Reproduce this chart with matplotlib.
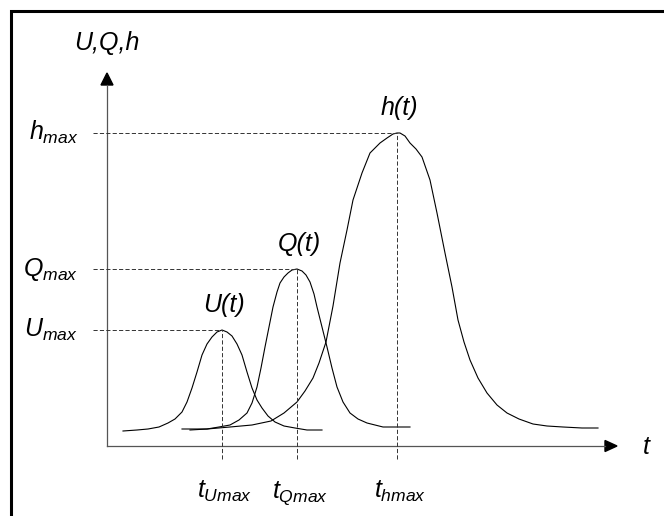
import matplotlib.pyplot as plt
import matplotlib.patches as patches

plt.rcParams['font.family'] = ['Liberation Sans', 'DejaVu Sans']
plt.rcParams['mathtext.fontset'] = 'custom'
plt.rcParams['mathtext.rm'] = 'Liberation Sans:italic'
plt.rcParams['mathtext.it'] = 'Liberation Sans:italic'
plt.rcParams['lines.scale_dashes'] = False

# curves (t, value), origin at the axes corner
u_t = [16, 30, 41, 52, 61, 68, 75, 80, 85, 90, 95, 100, 105, 110, 115, 120, 125, 130, 135,
       140, 145, 150, 155, 161, 168, 177, 188, 200, 215]
u_v = [15, 16, 17, 19, 23, 27, 34, 44, 58, 74, 91, 102, 109, 114, 116, 114, 110, 102, 91,
       74, 58, 46, 38, 30, 24, 20, 18, 16, 16]

q_t = [75, 90, 100, 112, 123, 132, 140, 145, 150, 154, 158, 162, 166, 170, 173, 177, 181, 185,
       190, 195, 199, 203, 207, 210, 215, 220, 225, 230, 236, 243, 251, 260, 276, 290, 303]
q_v = [17, 17, 17, 19, 21, 26, 33, 43, 59, 78, 99, 119, 139, 154, 163, 169, 173, 176,
       177, 175, 171, 164, 152, 139, 119, 99, 78, 59, 44, 33, 27, 23, 19, 19, 19]

h_t = [83, 100, 123, 145, 164, 177, 190, 198, 206, 212, 219, 226, 233, 240, 246, 255, 263, 273,
       280, 286, 290, 293, 298, 303, 309, 315, 323, 330, 338, 345, 351, 357, 363, 371, 380,
       390, 400, 412, 426, 440, 456, 475, 491]
h_v = [16, 17, 19, 21, 25, 33, 44, 55, 68, 83, 104, 140, 183, 216, 246, 273, 293, 303,
       308, 312, 313, 313, 310, 303, 297, 289, 266, 233, 193, 159, 126, 104, 86, 68, 53,
       41, 33, 27, 22, 20, 19, 18, 18]

peaks_t = [115, 190, 290]
peaks_v = [116, 177, 313]
curve_names = ['U', 'Q', 'h']

fig = plt.figure(figsize=(6.64, 5.16), dpi=100)
ax = fig.add_axes([0, 0, 1, 1])
ax.set_xlim(-107, 557)
ax.set_ylim(-70, 446)
ax.axis('off')

# outer frame
ax.add_patch(patches.Rectangle((-96, -140), 700, 575, fill=False, lw=2.2, ec='black'))

# axes with arrows
ax.plot([0, 498], [0, 0], color='#555555', lw=0.9)
ax.plot([0, 0], [0, 361], color='#555555', lw=0.9)
ax.add_patch(patches.Polygon([[498, -5.5], [498, 5.5], [510, 0]], closed=True, color='black'))
ax.add_patch(patches.Polygon([[-6, 361], [6, 361], [0, 373]], closed=True, color='black'))

for tt, vv in [(u_t, u_v), (q_t, q_v), (h_t, h_v)]:
    ax.plot(tt, vv, color='black', lw=0.8)

# dashed guide lines to the peaks
for pt, pv, name in zip(peaks_t, peaks_v, curve_names):
    ax.plot([-14, pt], [pv, pv], color='#333333', lw=0.7, dashes=(3, 1.6))
    ax.plot([pt, pt], [-13, pv], color='#333333', lw=0.7, dashes=(3, 1.6))
    ax.text(-29, pv - 7, r'$%s_{max}$' % name, fontsize=18, ha='right', va='baseline')
    ax.text(pt + 3, -52, r'$t_{%smax}$' % name, fontsize=18, ha='center', va='baseline')
    ax.text(pt + 2, pv + 25, name + '(t)', fontsize=18, style='italic', ha='center', va='center')

ax.text(0, 403, 'U,Q,h', fontsize=18, style='italic', ha='center', va='center')
ax.text(539, -1, 't', fontsize=18, style='italic', ha='center', va='center')

fig.savefig('out.png', dpi=100)
